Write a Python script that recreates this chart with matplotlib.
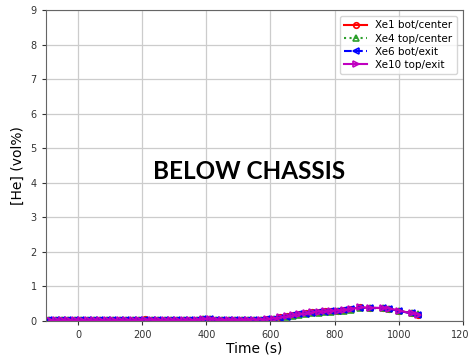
import matplotlib
matplotlib.use("Agg")
import matplotlib.pyplot as plt

time_s = [-90, -70, -50, -30, -10, 10, 30, 50, 70, 90, 110, 130, 150, 170, 190, 210, 230, 250,
          270, 290, 310, 330, 350, 370, 390, 410, 430, 450, 470, 490, 510, 530, 550, 570, 590,
          610, 630, 650, 670, 690, 710, 730, 750, 770, 790, 810, 830, 850, 880, 910, 950, 970,
          1000, 1040, 1060]

xe1 = [0.02, 0.02, 0.02, 0.02, 0.02, 0.02, 0.01, 0.02, 0.02, 0.02, 0.02, 0.02, 0.02, 0.02, 0.03, 0.06,
       0.03, 0.03, 0.02, 0.02, 0.02, 0.02, 0.02, 0.03, 0.07, 0.06, 0.03, 0.03, 0.03, 0.03, 0.03,
       0.03, 0.04, 0.04, 0.05, 0.07, 0.10, 0.13, 0.17, 0.20, 0.22, 0.25, 0.27, 0.28, 0.29, 0.30,
       0.32, 0.35, 0.39, 0.38, 0.37, 0.35, 0.30, 0.22, 0.18]
xe4 = [0.02, 0.02, 0.02, 0.02, 0.02, 0.02, 0.02, 0.02, 0.02, 0.02, 0.02, 0.02, 0.02, 0.02, 0.02, 0.03,
       0.02, 0.02, 0.02, 0.02, 0.02, 0.02, 0.02, 0.03, 0.05, 0.05, 0.03, 0.03, 0.02, 0.02, 0.03,
       0.03, 0.03, 0.03, 0.04, 0.05, 0.07, 0.10, 0.14, 0.17, 0.20, 0.22, 0.24, 0.26, 0.27, 0.28,
       0.30, 0.33, 0.38, 0.38, 0.37, 0.35, 0.30, 0.23, 0.19]
xe6 = [0.02, 0.02, 0.02, 0.02, 0.02, 0.02, 0.02, 0.02, 0.02, 0.02, 0.02, 0.02, 0.02, 0.02, 0.02, 0.04,
       0.03, 0.02, 0.02, 0.02, 0.02, 0.02, 0.02, 0.03, 0.06, 0.05, 0.03, 0.03, 0.03, 0.03, 0.03,
       0.03, 0.03, 0.04, 0.05, 0.06, 0.09, 0.12, 0.16, 0.19, 0.21, 0.24, 0.26, 0.27, 0.28, 0.30,
       0.31, 0.34, 0.38, 0.37, 0.37, 0.35, 0.29, 0.22, 0.18]
xe10 = [0.02, 0.02, 0.02, 0.02, 0.02, 0.02, 0.02, 0.02, 0.02, 0.02, 0.02, 0.02, 0.02, 0.02, 0.02, 0.04,
        0.03, 0.02, 0.02, 0.02, 0.02, 0.02, 0.02, 0.03, 0.06, 0.06, 0.03, 0.03, 0.03, 0.03, 0.03,
        0.03, 0.04, 0.04, 0.05, 0.07, 0.10, 0.13, 0.17, 0.20, 0.22, 0.25, 0.27, 0.28, 0.29, 0.30,
        0.32, 0.35, 0.39, 0.38, 0.38, 0.36, 0.30, 0.22, 0.18]

labels = ["Xe1 bot/center", "Xe4 top/center", "Xe6 bot/exit", "Xe10 top/exit"]
title_text = "BELOW CHASSIS"

fig = plt.figure(figsize=(4.69, 3.57), dpi=100)
ax = fig.add_axes([0.098, 0.101, 0.889, 0.871])

ax.plot(time_s, xe1, color="red", linestyle="-", marker="o", markersize=4,
        markerfacecolor="none", markeredgewidth=1.2, linewidth=1.5, label=labels[0])
ax.plot(time_s, xe4, color="#2ca02c", linestyle=":", marker="^", markersize=4,
        markerfacecolor="none", markeredgewidth=1.2, linewidth=1.5, label=labels[1])
ax.plot(time_s, xe6, color="blue", linestyle="--", marker="<", markersize=4,
        markerfacecolor="none", markeredgewidth=1.2, linewidth=1.5, label=labels[2])
ax.plot(time_s, xe10, color="#c000c0", linestyle="-", marker=">", markersize=4,
        markerfacecolor="none", markeredgewidth=1.2, linewidth=1.5, label=labels[3])

ax.set_xlim(-100, 1200)
ax.set_ylim(0, 9)
ax.set_xticks([0, 200, 400, 600, 800, 1000, 1200])
ax.set_yticks(range(0, 10))
ax.tick_params(labelsize=7, colors="#333333", length=3)
ax.grid(True, color="#cccccc", linewidth=0.9)
for s in ax.spines.values():
    s.set_color("#666666")
ax.set_xlabel("Time (s)", fontsize=10, labelpad=1)
ax.set_ylabel("[He] (vol%)", fontsize=10, labelpad=4)

ax.text(0.487, 0.479, title_text, transform=ax.transAxes, ha="center", va="center",
        fontsize=17.5, fontweight="bold", family="Lato")

ax.legend(loc="upper right", fontsize=7.5, handlelength=2.2, borderaxespad=0.6,
          labelspacing=0.3, framealpha=0.8)

fig.savefig("out.png", dpi=100)
